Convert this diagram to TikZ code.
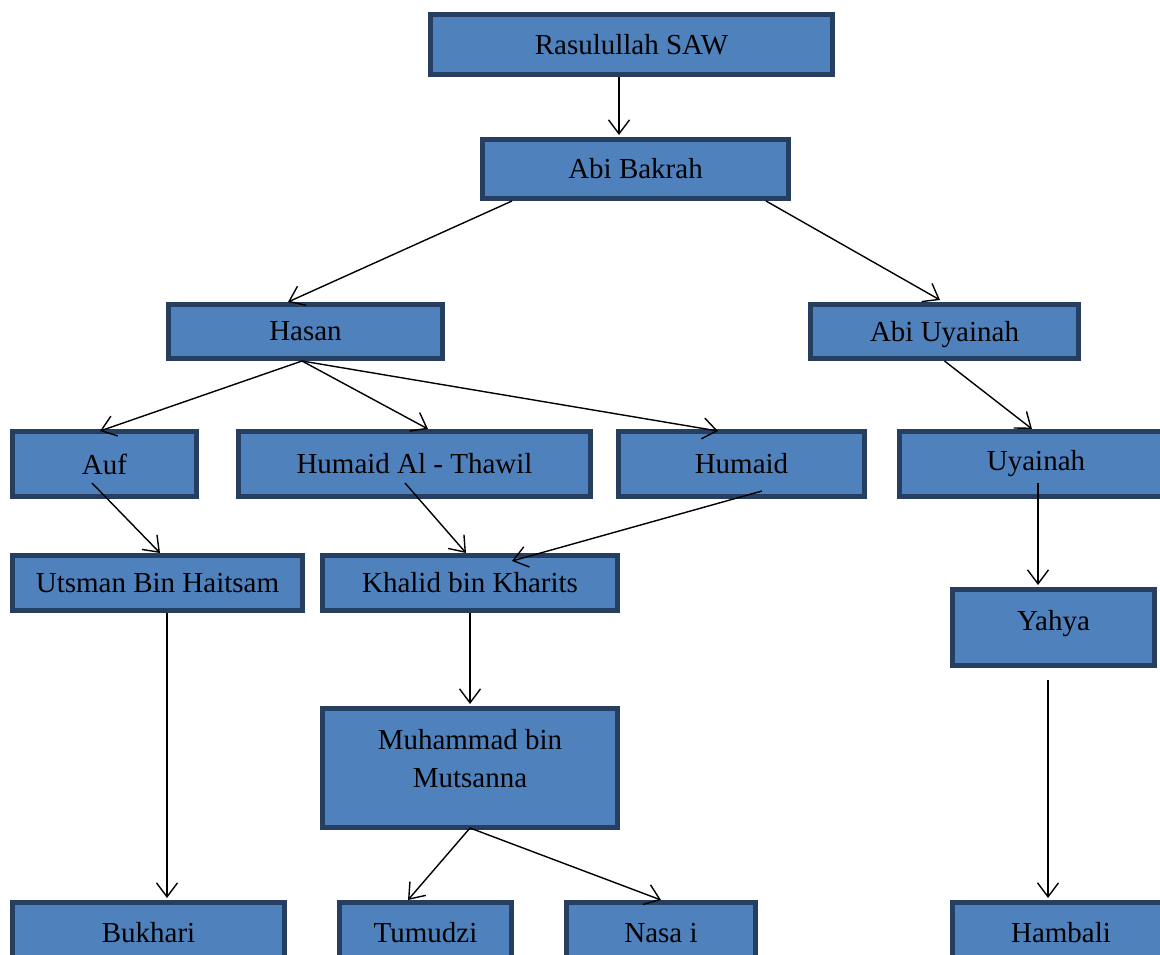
\documentclass[tikz,border=0pt]{standalone}
\usepackage{fontspec}
\setmainfont{Liberation Serif}
\usetikzlibrary{arrows.meta}
\definecolor{boxfill}{RGB}{79,129,189}
\definecolor{boxline}{RGB}{38,63,96}
\tikzset{
	sanad/.style={draw=boxline, fill=boxfill, line width=5pt, inner sep=0pt, align=center,
		font=\fontsize{29}{38}\selectfont},
	riwayat/.style={line width=1.4pt, -{Straight Barb[length=14pt,width=21pt,line width=1.4pt]}}
}

\begin{document}
\begin{tikzpicture}[x=1pt, y=-1pt]
			%%%%% START %%%%%
			\useasboundingbox (0, 0) rectangle (1160, 955);
			
			\node[sanad, minimum width=402, minimum height=60] (rasul) at (631.5, 44.5) {Rasulullah SAW};
			\node[sanad, minimum width=306, minimum height=59] (bakrah) at (635.5, 169) {Abi Bakrah};
			
			\node[sanad, minimum width=274, minimum height=54] (hasan) at (305.5, 331.5) {Hasan};
			\node[sanad, minimum width=268, minimum height=54, text depth=0pt] (abiuyainah) at (944.5, 331.5) {Abi Uyainah};
			
			\node[sanad, minimum width=184, minimum height=65] (auf) at (104.5, 464) {Auf};
			\node[sanad, minimum width=352, minimum height=65] (thawil) at (414.5, 464) {Humaid Al - Thawil};
			\node[sanad, minimum width=246, minimum height=65] (humaid) at (741.5, 464) {Humaid};
			\node[sanad, minimum width=273, minimum height=65] (uyainah) at (1036, 464) {Uyainah};
			
			\node[sanad, minimum width=290, minimum height=55] (utsman) at (157.5, 583) {Utsman Bin Haitsam};
			\node[sanad, minimum width=295, minimum height=55] (khalid) at (470, 583) {Khalid bin Kharits};
			\node[sanad, minimum width=202, minimum height=76, text depth=14pt] (yahya) at (1053.5, 627.5) {Yahya};
			
			\node[sanad, minimum width=295, minimum height=119, text depth=20pt] (muhammad) at (470, 768) {Muhammad bin\\Mutsanna};
			
			\node[sanad, minimum width=272, minimum height=61] (bukhari) at (148.5, 933) {Bukhari};
			\node[sanad, minimum width=172, minimum height=61] (tumudzi) at (425.5, 933) {Tumudzi};
			\node[sanad, minimum width=189, minimum height=61] (nasai) at (661, 933) {Nasa i};
			\node[sanad, minimum width=217, minimum height=61] (hambali) at (1061, 933) {Hambali};
			
			\draw[riwayat] ([xshift=-12.5]rasul.south) -- ([xshift=-16.5, yshift=2]bakrah.north);
			\draw[riwayat] ([xshift=-123.5]bakrah.south) -- ([xshift=-17.5]hasan.north);
			\draw[riwayat] ([xshift=130.5]bakrah.south) -- ([xshift=-4.5, yshift=2]abiuyainah.north);
			
			\draw[riwayat] ([xshift=-3.5]hasan.south) -- ([xshift=-4.5, yshift=-2]auf.north);
			\draw[riwayat] ([xshift=-3.5]hasan.south) -- ([xshift=13.5]thawil.north);
			\draw[riwayat] ([xshift=-3.5]hasan.south) -- ([xshift=-23.5, yshift=-2]humaid.north);
			\draw[riwayat] (abiuyainah.south) -- ([xshift=-4]uyainah.north);
			
			\draw[riwayat] ([xshift=-12.5, yshift=-19]auf.center) -- ([xshift=2.5]utsman.north);
			\draw[riwayat] ([xshift=-9.5, yshift=-19]thawil.center) -- ([xshift=-4]khalid.north);
			\draw[riwayat] ([xshift=20.5, yshift=-27]humaid.center) -- ([xshift=42, yshift=-8]khalid.north);
			\draw[riwayat] ([xshift=2, yshift=-19]uyainah.center) -- ([xshift=-15.5, yshift=2]yahya.north);
			
			\draw[riwayat] ([xshift=9.5]utsman.south) -- ([xshift=18.5, yshift=2]bukhari.north);
			\draw[riwayat] (khalid.south) -- ([yshift=2]muhammad.north);
			\draw[riwayat] ([xshift=-5.5, yshift=-12]yahya.south) -- ([xshift=-13, yshift=2]hambali.north);
			
			\draw[riwayat] ([yshift=2]muhammad.south) -- ([xshift=-17.5]tumudzi.north);
			\draw[riwayat] ([yshift=2]muhammad.south) -- (nasai.north);
			
			%%%%% END %%%%%
\end{tikzpicture}
\end{document}
